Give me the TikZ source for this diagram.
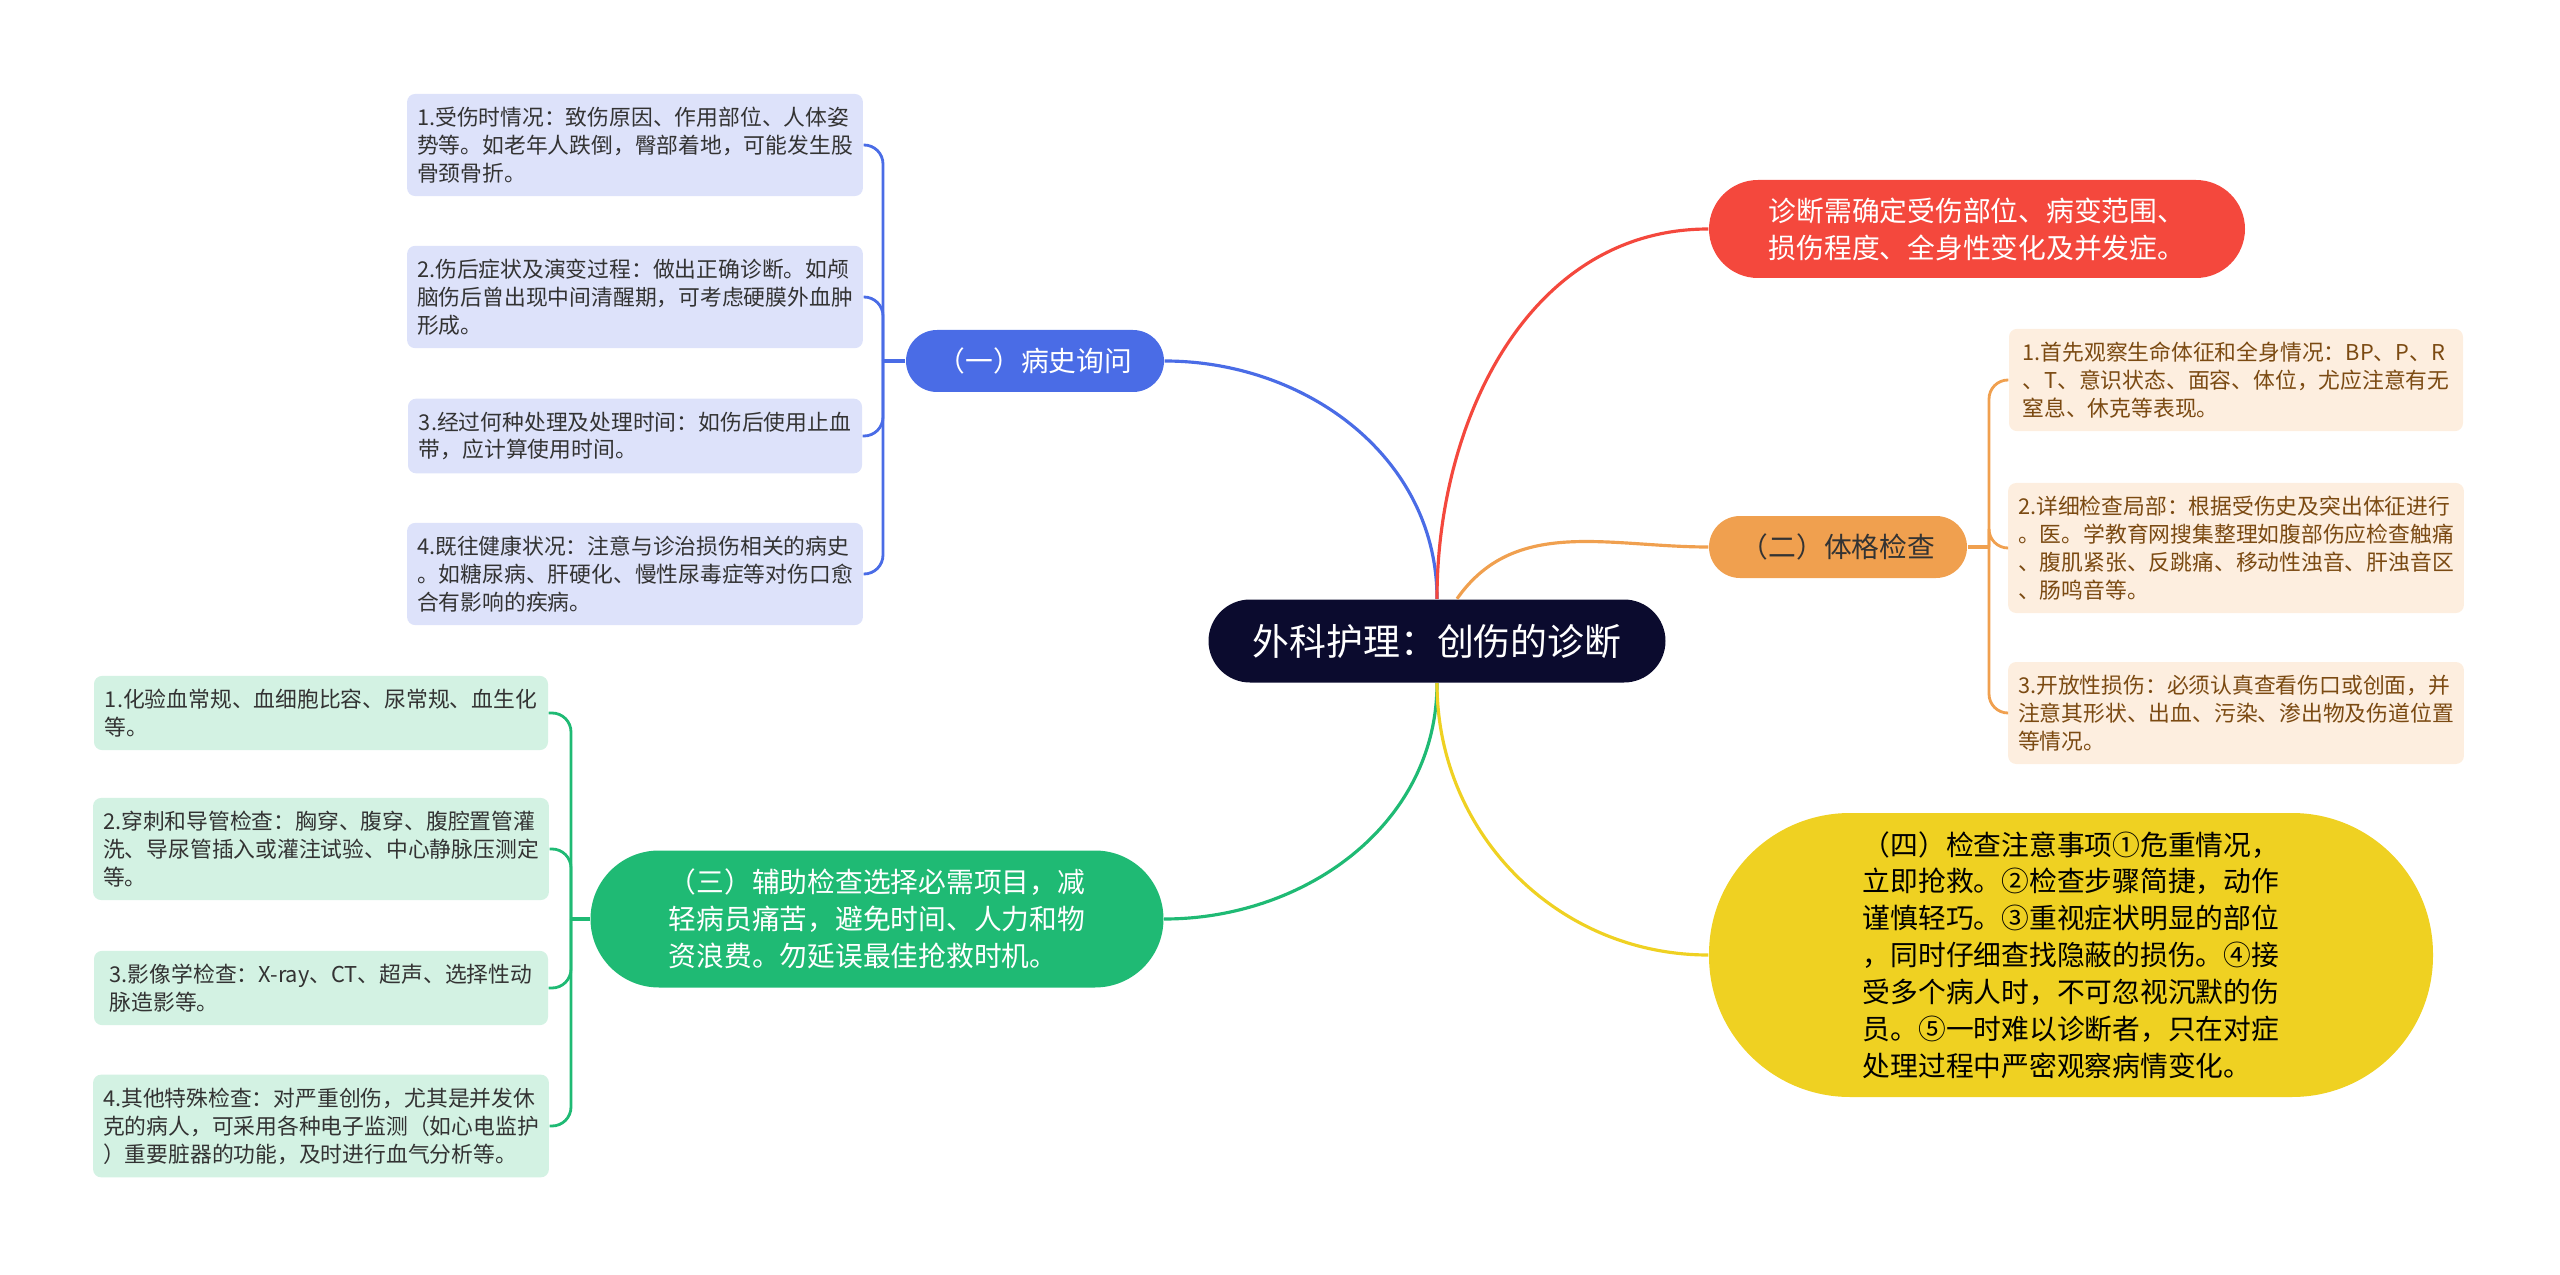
\documentclass[tikz,border=0pt]{standalone}
\usepackage{fontspec}
\setmainfont{Noto Sans CJK SC}
\definecolor{rootc}{HTML}{0B0B2E}
\definecolor{bluec}{HTML}{4A6CE6}
\definecolor{blueleaf}{HTML}{DDE2FA}
\definecolor{redc}{HTML}{F4483D}
\definecolor{orangec}{HTML}{F0A04F}
\definecolor{orangeleaf}{HTML}{FDEEDF}
\definecolor{orangetext}{HTML}{7B4A12}
\definecolor{yellowc}{HTML}{EFD122}
\definecolor{greenc}{HTML}{1FBA74}
\definecolor{greenleaf}{HTML}{D3F2E3}
\definecolor{textdark}{HTML}{333333}

\begin{document}
\begin{tikzpicture}[x=0.1mm, y=-0.1mm,
  leaf/.style={fill=#1, rounded corners=0.8mm, inner xsep=1mm, inner ysep=1.3mm,
    align=left, text=textdark, minimum width=45.4mm,
    font=\fontsize{6.2}{7.95}\selectfont},
  topic/.style={fill=#1, align=left, inner sep=0pt,
    font=\fontsize{7.9}{10.5}\selectfont},
  link/.style={draw=#1, line width=0.9pt},
  twig/.style={draw=#1, line width=0.8pt, rounded corners=1.9mm}]
  \useasboundingbox (0,0) rectangle (2560,1275);
  % root
  \node[fill=rootc, text=white, rounded corners=4.15mm, minimum width=45.7mm,
        minimum height=8.3mm, font=\fontsize{10.5}{12}\selectfont] (root) at (1437,641)
        {外科护理：创伤的诊断};
  % main topics
  \node[topic=bluec, text=white, rounded corners=3.1mm, minimum width=25.8mm,
        minimum height=6.2mm] (hist) at (1035,361) {（一）病史询问};
  \node[topic=redc, text=white, rounded corners=4.9mm, minimum width=53.6mm,
        minimum height=9.8mm] (diag) at (1977,229)
        {诊断需确定受伤部位、病变范围、\\损伤程度、全身性变化及并发症。};
  \node[topic=orangec, text=textdark, rounded corners=3.1mm, minimum width=25.8mm,
        minimum height=6.2mm] (exam) at (1838,547) {（二）体格检查};
  \node[topic=greenc, text=white, rounded corners=6.85mm, minimum width=57.3mm,
        minimum height=13.7mm] (aux) at (877,919)
        {（三）辅助检查选择必需项目，减\\轻病员痛苦，避免时间、人力和物\\资浪费。勿延误最佳抢救时机。};
  \node[topic=yellowc, text=black, rounded corners=14.1mm, minimum width=72.4mm,
        minimum height=28.4mm] (note) at (2071,955)
        {（四）检查注意事项①危重情况，\\立即抢救。②检查步骤简捷，动作\\谨慎轻巧。③重视症状明显的部位\\，同时仔细查找隐蔽的损伤。④接\\受多个病人时，不可忽视沉默的伤\\员。⑤一时难以诊断者，只在对症\\处理过程中严密观察病情变化。};
  % history leaves
  \node[leaf=blueleaf] (b1) at (635,145) {1.受伤时情况：致伤原因、作用部位、人体姿\\势等。如老年人跌倒，臀部着地，可能发生股\\骨颈骨折。};
  \node[leaf=blueleaf] (b2) at (635,297) {2.伤后症状及演变过程：做出正确诊断。如颅\\脑伤后曾出现中间清醒期，可考虑硬膜外血肿\\形成。};
  \node[leaf=blueleaf] (b3) at (635,436) {3.经过何种处理及处理时间：如伤后使用止血\\带，应计算使用时间。};
  \node[leaf=blueleaf] (b4) at (635,574) {4.既往健康状况：注意与诊治损伤相关的病史\\。如糖尿病、肝硬化、慢性尿毒症等对伤口愈\\合有影响的疾病。};
  % exam leaves
  \node[leaf=orangeleaf, text=orangetext] (o1) at (2236,380) {1.首先观察生命体征和全身情况：BP、P、R\\、T、意识状态、面容、体位，尤应注意有无\\窒息、休克等表现。};
  \node[leaf=orangeleaf, text=orangetext] (o2) at (2236,548) {2.详细检查局部：根据受伤史及突出体征进行\\。医。学教育网搜集整理如腹部伤应检查触痛\\、腹肌紧张、反跳痛、移动性浊音、肝浊音区\\、肠鸣音等。};
  \node[leaf=orangeleaf, text=orangetext] (o3) at (2236,713) {3.开放性损伤：必须认真查看伤口或创面，并\\注意其形状、出血、污染、渗出物及伤道位置\\等情况。};
  % auxiliary leaves
  \node[leaf=greenleaf] (g1) at (321,713) {1.化验血常规、血细胞比容、尿常规、血生化\\等。};
  \node[leaf=greenleaf] (g2) at (321,849) {2.穿刺和导管检查：胸穿、腹穿、腹腔置管灌\\洗、导尿管插入或灌注试验、中心静脉压测定\\等。};
  \node[leaf=greenleaf] (g3) at (321,988) {3.影像学检查：X-ray、CT、超声、选择性动\\脉造影等。};
  \node[leaf=greenleaf] (g4) at (321,1126) {4.其他特殊检查：对严重创伤，尤其是并发休\\克的病人，可采用各种电子监测（如心电监护\\）重要脏器的功能，及时进行血气分析等。};
  % branches from root
  \draw[link=bluec] (root.north) to[out=90,in=0] (hist.east);
  \draw[link=redc] (root.north) to[out=90,in=180] (diag.west);
  \draw[link=orangec] ([xshift=2mm]root.north) to[out=55,in=180] (exam.west);
  \draw[link=greenc] (root.south) to[out=-90,in=0] (aux.east);
  \draw[link=yellowc] (root.south) to[out=-90,in=180] (note.west);
  % brackets to leaves
  \coordinate (hj) at (883,361);
  \coordinate (ej) at (1989,547);
  \coordinate (aj) at (571,919);
  \draw[link=bluec] (hist.west) -- (hj);
  \draw[link=orangec] (exam.east) -- (ej);
  \draw[link=greenc] (aux.west) -- (aj);
  \foreach \i in {1,...,4} {
    \draw[twig=bluec] (hj) |- (b\i.east);
    \draw[twig=greenc] (aj) |- (g\i.east);
  }
  \foreach \i in {1,2,3}
    \draw[twig=orangec] (ej) |- (o\i.west);
\end{tikzpicture}
\end{document}
